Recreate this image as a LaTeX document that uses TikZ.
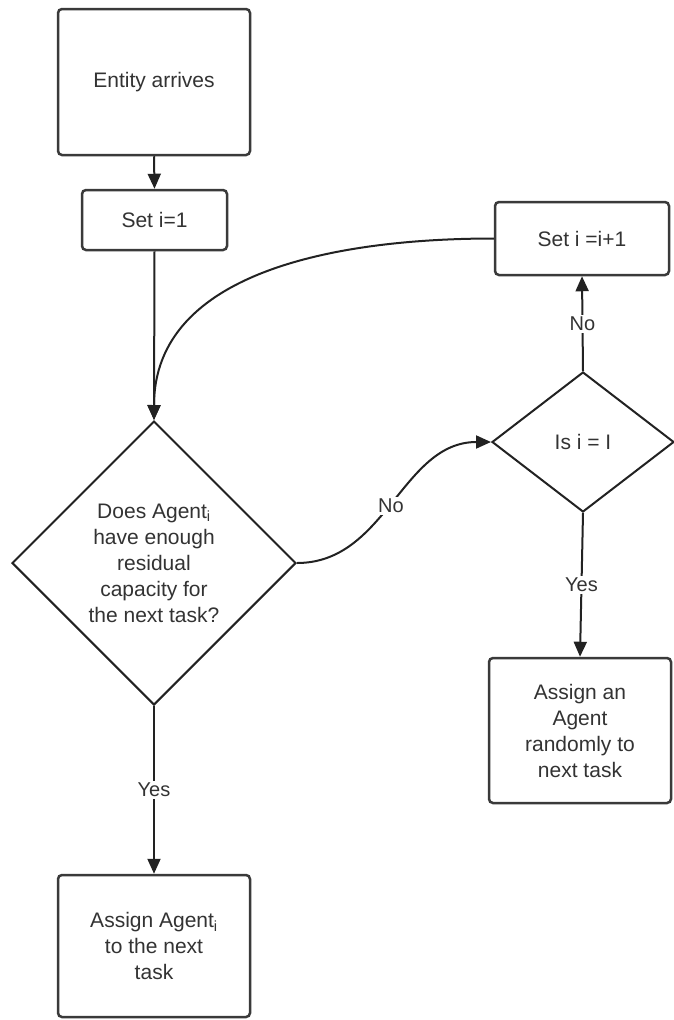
\documentclass[tikz,border=0pt]{standalone}
\usepackage{fontspec}
\setmainfont{Liberation Sans}
\usetikzlibrary{shapes.geometric,arrows.meta}
\definecolor{txt}{HTML}{333333}
\definecolor{ln}{HTML}{222222}
\definecolor{bx}{HTML}{3A3A3A}
\begin{document}
\begin{tikzpicture}[x=1pt,y=-1pt,
  box/.style={draw=bx,line width=2.5pt,rounded corners=4pt,fill=white,text=txt,align=center,inner sep=0pt,
    font=\fontsize{21}{26}\selectfont},
  dec/.style={draw=ln,line width=2pt,shape=diamond,fill=white,text=txt,align=center,inner sep=0pt,
    font=\fontsize{21}{26}\selectfont},
  conn/.style={draw=ln,line width=2pt,-{Triangle[length=15pt,width=13pt]}},
  lbl/.style={fill=white,text=txt,inner sep=2pt,font=\fontsize{20}{24}\selectfont}]
\useasboundingbox (0,0) rectangle (673,1020);
\node[box,minimum width=192pt,minimum height=146pt] (entity) at (154,82) {Entity arrives};
\node[box,minimum width=145pt,minimum height=60pt] (set1) at (154.5,220) {Set i=1};
\node[box,minimum width=174pt,minimum height=73pt] (seti) at (582,238.5) {Set i =i+1};
\node[dec,minimum width=284pt,minimum height=284pt] (bigd) at (154,563)
  {Does Agent\textsubscript{i}\\have enough\\residual\\capacity for\\the next task?};
\node[dec,minimum width=182pt,minimum height=140pt] (smalld) at (583,442) {Is i = I};
\node[box,minimum width=182pt,minimum height=145pt] (rand) at (580,730.5)
  {Assign an\\Agent\\randomly to\\next task};
\node[box,minimum width=192pt,minimum height=142pt] (assign) at (154,946)
  {Assign Agent\textsubscript{i}\\to the next\\task};
\draw[conn] (entity.south) -- (set1.north);
\draw[conn] (set1.south) -- (bigd.north);
\draw[conn] (seti.west) to[out=180,in=90] (bigd.north);
\draw[conn] (bigd.east) to[out=0,in=180] node[lbl,pos=0.48] {No} (smalld.west);
\draw[conn] (smalld.north) -- node[lbl] {No} (seti.south);
\draw[conn] (smalld.south) -- node[lbl] {Yes} (rand.north);
\draw[conn] (bigd.south) -- node[lbl] {Yes} (assign.north);
\end{tikzpicture}
\end{document}
